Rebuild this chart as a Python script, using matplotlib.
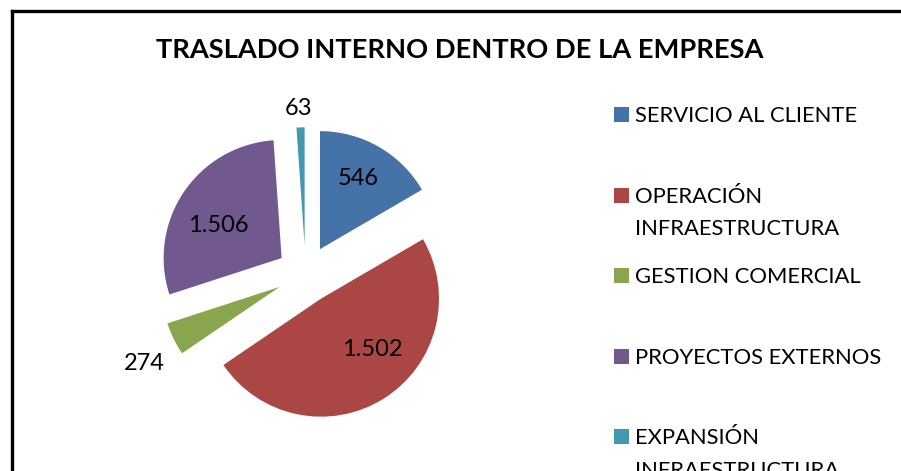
import numpy as np
import matplotlib
matplotlib.use('Agg')
import matplotlib.pyplot as plt
from matplotlib.lines import Line2D
from matplotlib.patches import Rectangle

# slice shares (percent of the circle)
categorias = ['SERVICIO AL CLIENTE', 'OPERACIÓN\nINFRAESTRUCTURA', 'GESTION COMERCIAL',
              'PROYECTOS EXTERNOS', 'EXPANSIÓN\nINFRAESTRUCTURA']
porcentajes = [16.6, 48.9, 4.5, 28.9, 1.1]
etiquetas = ['546', '1.502', '274', '1.506', '63']
titulo = 'TRASLADO INTERNO DENTRO DE LA EMPRESA'

colores = ['#4572A7', '#AA4643', '#89A54E', '#71588F', '#4198AF']
# label placement relative to each slice tip: (fraction of radius, angle offset from mid angle)
pos_etiqueta = [(0.68, 1.6), (0.615, 13.0), (1.32, 3.5), (0.60, 6.7), (1.16, 0.5)]

W, H = 901, 471
plt.rcParams['font.family'] = ['Lato', 'DejaVu Sans']

fig = plt.figure(figsize=(W / 100, H / 100), dpi=100)
ax = fig.add_axes([0, 0, 1, 1])

radio = 118
centro = (305.6, H - 274.2)
wedges, _ = ax.pie(porcentajes, colors=colores, startangle=90, counterclock=False,
                   radius=radio, center=centro, explode=[0.245 * radio] * len(porcentajes),
                   wedgeprops=dict(linewidth=0))
ax.set_xlim(0, W)
ax.set_ylim(0, H)
ax.set_aspect('auto')
ax.axis('off')

for w, txt, (fr, off) in zip(wedges, etiquetas, pos_etiqueta):
    ang = np.deg2rad((w.theta1 + w.theta2) / 2 + off)
    cx, cy = w.center
    ax.text(cx + fr * radio * np.cos(ang), cy + fr * radio * np.sin(ang), txt,
            ha='center', va='center', fontsize=17, color='black')

fig.text(460 / W, 1 - 50 / H, titulo, ha='center', va='center', fontsize=19.6, fontweight='bold')

# legend drawn by hand so the swatch sits on the first line
for i, (cat, col) in enumerate(zip(categorias, colores)):
    base = 122.3 + i * 80.4
    ax.add_patch(Rectangle((614, H - base), 15, 15, facecolor=col, edgecolor='none'))
    for j, linea in enumerate(cat.split('\n')):
        ax.text(635, H - base - j * 32.7, linea, ha='left', va='baseline', fontsize=15.8)

# frame of the chart area (cut by the image on the right and bottom)
lw = 2.4
fig.add_artist(Line2D([11.7 / W, 11.7 / W], [0, 1 - 11 / H], color='black', lw=lw,
                      solid_capstyle='projecting', transform=fig.transFigure))
fig.add_artist(Line2D([11.7 / W, 1], [1 - 11 / H, 1 - 11 / H], color='black', lw=lw,
                      solid_capstyle='projecting', transform=fig.transFigure))

fig.savefig('out.png', dpi=100)
